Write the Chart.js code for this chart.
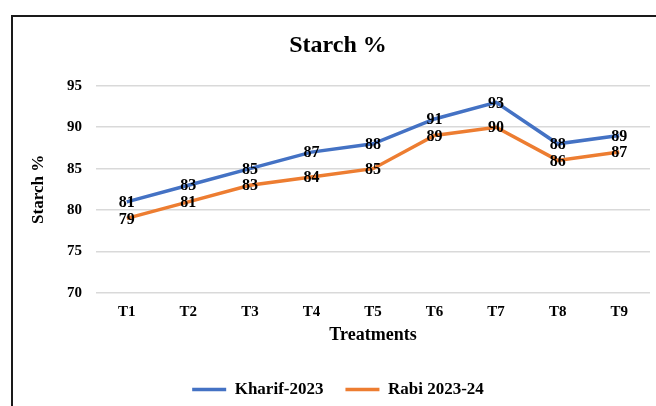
<!DOCTYPE html>
<html>
<head>
<meta charset="utf-8">
<script src="https://cdn.jsdelivr.net/npm/chart.js@4.4.0/dist/chart.umd.min.js"></script>
<style>
  html, body { margin: 0; padding: 0; background: #fff; overflow: hidden; }
  #frame {
    position: absolute; left: 11px; top: 15px;
    width: 700px; height: 450px;
    border: 2px solid #1a1a1a; box-sizing: border-box;
  }
  #wrap { position: absolute; left: 0; top: 0; width: 656px; height: 406px; }
</style>
</head>
<body>
<div id="frame"></div>
<div id="wrap"><canvas id="myChart" width="656" height="406"></canvas></div>
<script>
// data
const treatments = ['T1', 'T2', 'T3', 'T4', 'T5', 'T6', 'T7', 'T8', 'T9'];
const kharif2023 = [81, 83, 85, 87, 88, 91, 93, 88, 89];
const rabi2023 = [79, 81, 83, 84, 85, 89, 90, 86, 87];
const yTicks = [70, 75, 80, 85, 90, 95];

const serif = "'Liberation Serif', 'Times New Roman', serif";

// point labels centred on each point
const pointLabels = {
  id: 'pointLabels',
  afterDatasetsDraw(chart) {
    const ctx = chart.ctx;
    ctx.save();
    ctx.font = 'bold 16px ' + serif;
    ctx.fillStyle = '#000';
    ctx.textAlign = 'center';
    ctx.textBaseline = 'middle';
    chart.data.datasets.forEach((ds, i) => {
      chart.getDatasetMeta(i).data.forEach((pt, j) => {
        ctx.fillText(ds.data[j], pt.x, pt.y + 1);
      });
    });
    ctx.restore();
  }
};

const ctx = document.getElementById('myChart').getContext('2d');
new Chart(ctx, {
  type: 'line',
  data: {
    labels: treatments,
    datasets: [{
      label: 'Kharif-2023',
      data: kharif2023,
      borderColor: '#4472C4',
      backgroundColor: '#4472C4',
      borderWidth: 3.5,
      pointRadius: 0,
      tension: 0
    }, {
      label: 'Rabi 2023-24',
      data: rabi2023,
      borderColor: '#ED7D31',
      backgroundColor: '#ED7D31',
      borderWidth: 3.5,
      pointRadius: 0,
      tension: 0
    }]
  },
  plugins: [pointLabels],
  options: {
    responsive: false,
    animation: false,
    layout: { padding: { left: 26, right: 6, top: 0, bottom: -2 } },
    plugins: {
      title: {
        display: true,
        text: 'Starch %',
        color: '#000',
        font: { family: serif, size: 24, weight: 'bold' },
        padding: { top: 31, bottom: 26 }
      },
      legend: {
        display: true,
        position: 'bottom',
        labels: {
          color: '#000',
          font: { family: serif, size: 17, weight: 'bold' },
          usePointStyle: true,
          pointStyle: 'line',
          pointStyleWidth: 34,
          padding: 22
        }
      },
      tooltip: { enabled: false }
    },
    scales: {
      x: {
        offset: true,
        grid: { display: false, drawTicks: false },
        border: { display: false },
        ticks: {
          color: '#000',
          padding: 10,
          font: { family: serif, size: 15, weight: 'bold' }
        },
        title: {
          display: true,
          text: 'Treatments',
          color: '#000',
          font: { family: serif, size: 18, weight: 'bold' },
          padding: { top: 4, bottom: 13 }
        },
        afterFit(scale) {
          scale.height = 66;
        }
      },
      y: {
        min: 70,
        max: 95,
        afterBuildTicks(scale) {
          scale.ticks = yTicks.map(v => ({ value: v }));
        },
        grid: { color: '#d9d9d9', lineWidth: 1.5, drawTicks: false },
        border: { display: false },
        ticks: {
          color: '#000',
          padding: 14,
          font: { family: serif, size: 15, weight: 'bold' }
        },
        title: {
          display: true,
          text: 'Starch %',
          color: '#000',
          font: { family: serif, size: 17, weight: 'bold' },
          padding: { top: 2, bottom: 4 }
        },
        afterFit(scale) {
          scale.width = 70;
        }
      }
    }
  }
});
</script>
</body>
</html>
